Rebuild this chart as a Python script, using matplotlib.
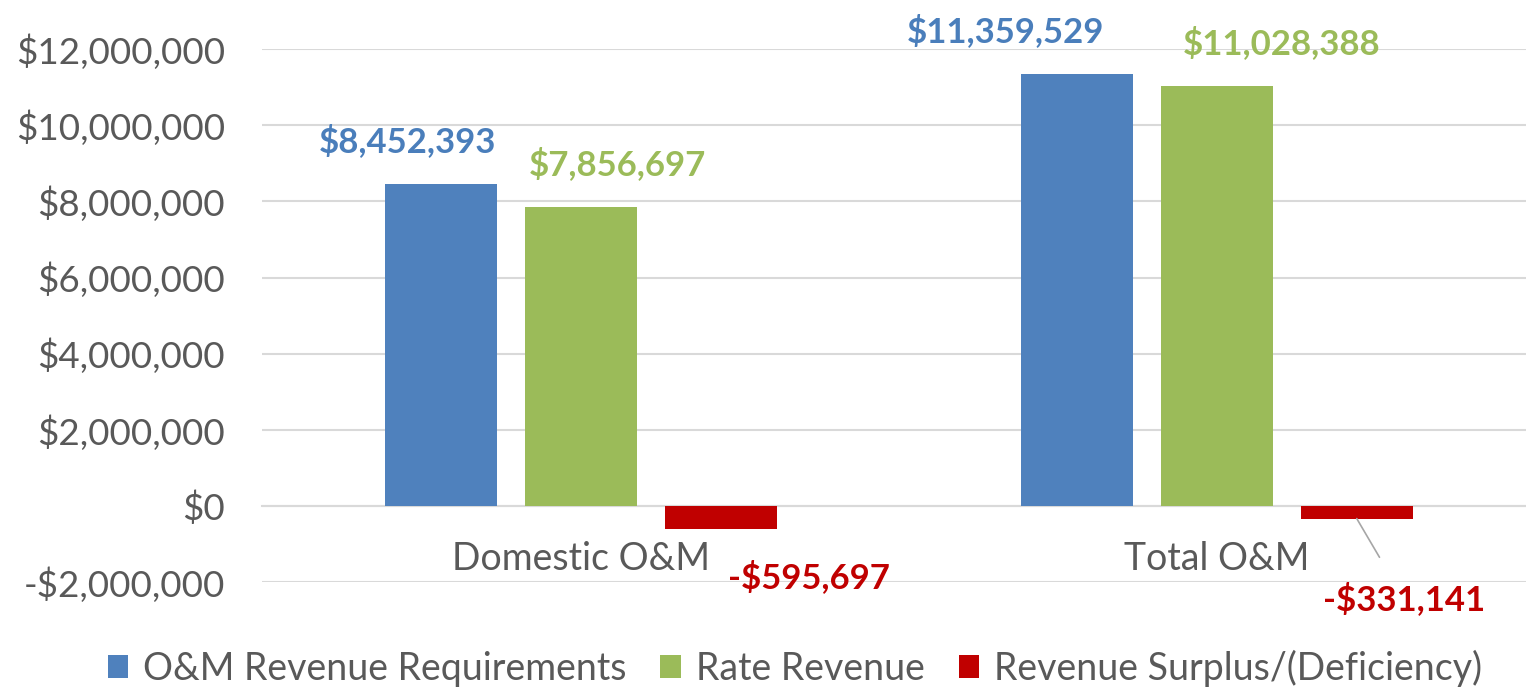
import matplotlib.pyplot as plt
import matplotlib.ticker as mticker
import numpy as np

plt.rcParams['font.family'] = ['Lato', 'DejaVu Sans']

# Data
categories = ['Domestic O&M', 'Total O&M']
series_names = ['O&M Revenue Requirements', 'Rate Revenue', 'Revenue Surplus/(Deficiency)']
requirements = [8452393, 11359529]
rate_revenue = [7856697, 11028388]
surplus = [-595697, -331141]

colors = ['#4F81BD', '#9BBB59', '#C00000']
label_colors = ['#4A7EBB', '#9BBB59', '#C00000']

fig = plt.figure(figsize=(15.26, 6.93), dpi=100)
ax = fig.add_axes([0.172, 0.160, 0.828, 0.769])

x = np.arange(len(categories))
width = 0.176
offsets = [-0.22, 0.0, 0.22]
all_series = [requirements, rate_revenue, surplus]

bars = []
for vals, off, c, name in zip(all_series, offsets, colors, series_names):
    b = ax.bar(x + off, vals, width, color=c, label=name, zorder=3)
    bars.append(b)

ax.set_ylim(-2000000, 12000000)
ax.set_xlim(-0.5, 1.486)
ax.set_yticks(np.arange(-2000000, 12000001, 2000000))
ax.yaxis.set_major_formatter(mticker.FuncFormatter(
    lambda v, p: ('-$' if v < 0 else '$') + f'{abs(int(v)):,}'))
ax.grid(axis='y', color='#D9D9D9', linewidth=1.5, zorder=0)
ax.set_axisbelow(True)

for s in ['top', 'right', 'left']:
    ax.spines[s].set_visible(False)
ax.spines['bottom'].set_position(('data', 0))
ax.spines['bottom'].set_color('#D9D9D9')
ax.spines['bottom'].set_linewidth(1.5)

ax.set_xticks(x)
ax.set_xticklabels(categories)
ax.tick_params(axis='x', length=0, pad=25, labelsize=27, labelcolor='#595959')
ax.tick_params(axis='y', length=0, pad=27, labelsize=26.5, labelcolor='#595959')

# data labels (offsets in pixels, hand placed like the original)
label_offsets = [
    [(-33, 26), (-71, 26)],
    [(37, 26), (65, 26)],
    [(88, -48), (47, -80)],
]
for s, (vals, offs) in enumerate(zip(all_series, label_offsets)):
    for i, v in enumerate(vals):
        xb = x[i] + offsets[s]
        txt = ('-$' if v < 0 else '$') + f'{abs(v):,}'
        if v >= 0:
            ax.annotate(txt, (xb, v), xytext=offs[i], textcoords='offset pixels',
                        ha='center', va='bottom', fontsize=25, fontweight='bold',
                        color=label_colors[s], annotation_clip=False)
        else:
            arrow = None
            if i == 1:
                arrow = dict(arrowstyle='-', color='#A6A6A6', lw=1.2,
                             shrinkA=18, shrinkB=0)
            ax.annotate(txt, (xb, v), xytext=offs[i], textcoords='offset pixels',
                        ha='center', va='center', fontsize=25, fontweight='bold',
                        color=label_colors[s], annotation_clip=False,
                        arrowprops=arrow)

fig.legend(handles=bars, labels=series_names, loc='center', ncol=3,
           bbox_to_anchor=(0.521, 0.036), frameon=False, fontsize=27,
           labelcolor='#595959', handlelength=0.55, handleheight=0.55,
           handletextpad=0.4, columnspacing=0.9)

fig.savefig('out.png', dpi=100)
